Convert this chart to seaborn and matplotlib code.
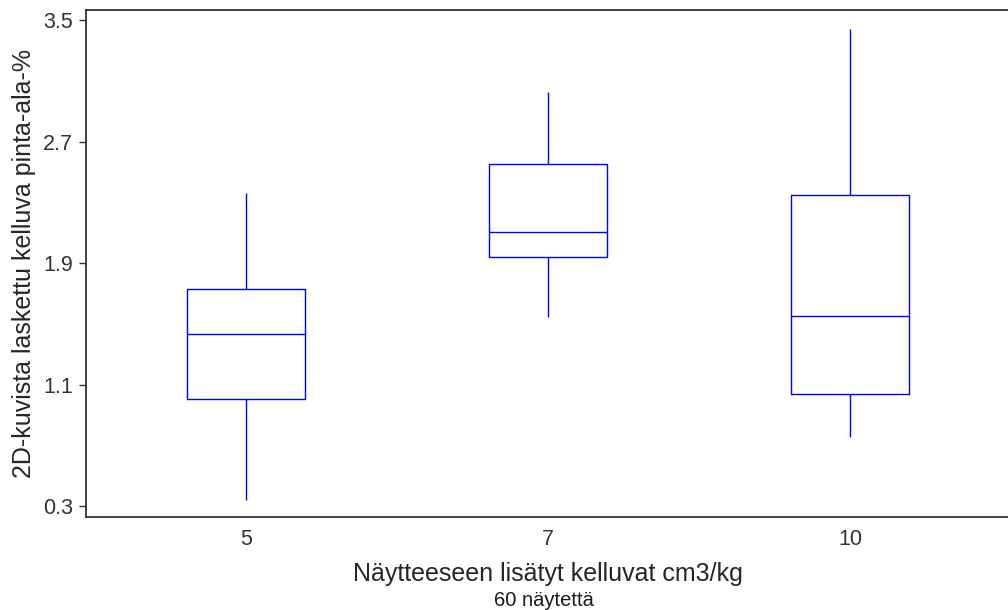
import matplotlib
matplotlib.use("Agg")
import matplotlib.pyplot as plt
import seaborn as sns
import pandas as pd

categories = ["5", "7", "10"]
# five-number summaries: min, q1, median, q3, max
vals_5 = [0.34, 1.005, 1.433, 1.729, 2.361]
vals_7 = [1.545, 1.940, 2.104, 2.552, 3.026]
vals_10 = [0.755, 1.038, 1.551, 2.348, 3.441]
y_ticks = [0.3, 1.1, 1.9, 2.7, 3.5]

df = pd.DataFrame({
    "cat": [categories[0]] * 5 + [categories[1]] * 5 + [categories[2]] * 5,
    "val": vals_5 + vals_7 + vals_10,
})

sns.set_style("white")
plt.rcParams["font.family"] = ["Liberation Sans", "DejaVu Sans"]

fig = plt.figure(figsize=(10.08, 6.10), dpi=100)
ax = fig.add_axes([0.0853, 0.1525, 0.9167, 0.8311])

sns.boxplot(data=df, x="cat", y="val", order=categories, ax=ax,
            whis=(0, 100), showcaps=False, fill=False, color="#0000FF",
            width=0.39, linewidth=1.0, showfliers=False)

ax.set_ylim(0.228, 3.566)
ax.set_xlim(-0.53, 2.53)
ax.set_yticks(y_ticks)
ax.set_yticklabels([f"{t:.1f}" for t in y_ticks])

for s in ax.spines.values():
    s.set_color("#333333")
    s.set_linewidth(1.3)
    s.set_visible(True)

ax.tick_params(axis="y", length=5, width=1.0, color="#333333", labelsize=15.5,
               labelcolor="#333333", pad=4.5, left=True)
ax.tick_params(axis="x", length=0, labelsize=15.5, labelcolor="#333333", pad=9)

ax.set_xlabel("Näytteeseen lisätyt kelluvat cm3/kg", fontsize=18, labelpad=8)
ax.set_ylabel("2D-kuvista laskettu kelluva pinta-ala-%", fontsize=18, labelpad=5)
fig.text(0.5 * (0.0853 + 1.0) - 0.003, 0.006, "60 näytettä", ha="center",
         va="baseline", fontsize=14.5, color="#1a1a1a")

fig.savefig("out.png", dpi=100)
